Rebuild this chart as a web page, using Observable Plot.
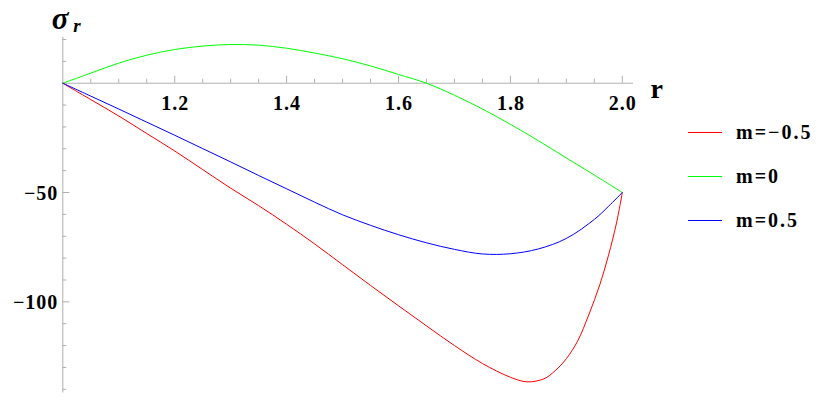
<!DOCTYPE html>
<html>
<head>
<meta charset="utf-8">
<script src="https://cdn.jsdelivr.net/npm/d3@7"></script>
<script src="https://cdn.jsdelivr.net/npm/@observablehq/plot@0.6"></script>
<style>
  html, body { margin: 0; padding: 0; background: #fff; }
  #wrap { position: relative; width: 828px; height: 405px; }
  #wrap svg text { letter-spacing: 1px; }
  #legend { position: absolute; left: 688px; top: 0; font-family: "Liberation Serif", serif; font-weight: bold; font-size: 20px; color: #000; }
  .row { position: absolute; left: 0; display: flex; align-items: center; white-space: nowrap; }
  .sw { width: 34px; height: 0; border-top: 1px solid; margin-right: 14px; }
  .lbl { letter-spacing: 2px; }
</style>
</head>
<body>
<div id="wrap"><div id="legend"></div></div>
<script>
// Series labels and colours
const seriesNames = ["m=\u22120.5", "m=0", "m=0.5"];
const seriesColors = ["#ff0000", "#00ff00", "#0000ff"];

// m = -0.5 (red)
const redR = [1.0, 1.05, 1.1, 1.15, 1.2, 1.25, 1.3, 1.35, 1.4, 1.45, 1.5, 1.55, 1.6, 1.65, 1.7, 1.75, 1.8, 1.83, 1.86, 1.88, 1.9, 1.92, 1.94, 1.96, 1.975, 1.99, 2.0];
const redV = [0, -7.5, -15, -23, -31, -39.5, -48, -56, -64.5, -73.5, -83, -92.5, -101.8, -111, -120, -128.2, -134.5, -136.6, -135.2, -131.5, -126, -118, -106, -92, -79, -63.5, -50];

// m = 0 (green)
const greenR = [1.0, 1.05, 1.1, 1.15, 1.2, 1.25, 1.3, 1.35, 1.4, 1.45, 1.5, 1.55, 1.6, 1.65, 1.7, 1.75, 1.8, 1.85, 1.9, 1.95, 2.0];
const greenV = [0, 4.6, 9.2, 12.8, 15.4, 17.0, 17.7, 17.4, 16.0, 13.8, 11.2, 7.9, 4.0, 0, -5.5, -11.8, -18.8, -26.3, -34.2, -42, -50];

// m = 0.5 (blue)
const blueR = [1.0, 1.05, 1.1, 1.15, 1.2, 1.25, 1.3, 1.35, 1.4, 1.45, 1.5, 1.55, 1.6, 1.65, 1.7, 1.75, 1.8, 1.85, 1.9, 1.95, 1.975, 2.0];
const blueV = [0, -5.9, -11.8, -17.8, -23.8, -29.9, -36, -42.2, -48.3, -54.4, -60.2, -65, -69.3, -73, -76, -78.1, -78.0, -75.8, -71.0, -62.3, -56.4, -50];

// Axes
const xDomain = [1, 2.02];
const yDomain = [-141.7, 21];
const xMajor = [1.2, 1.4, 1.6, 1.8, 2.0];
const xMinor = [1.05, 1.1, 1.15, 1.25, 1.3, 1.35, 1.45, 1.5, 1.55, 1.65, 1.7, 1.75, 1.85, 1.9, 1.95];
const yMajor = [-50, -100];
const yMinor = [20, 10, -10, -20, -30, -40, -60, -70, -80, -90, -110, -120, -130, -140];

const seriesR = [redR, greenR, blueR];
const seriesV = [redV, greenV, blueV];
const data = seriesNames.flatMap((name, i) => seriesR[i].map((r, j) => ({series: name, r, v: seriesV[i][j]})));

const axisColor = "#b0b0b0";
const H = 405, W = 828, mL = 62.3, mR = 195, mT = 36.8, mB = 12.5;
const pxPerX = (W - mL - mR) / (xDomain[1] - xDomain[0]);
const pxPerY = (H - mT - mB) / (yDomain[1] - yDomain[0]);

const chart = Plot.plot({
  width: W, height: H,
  marginLeft: mL, marginRight: mR, marginTop: mT, marginBottom: mB,
  x: {domain: xDomain, axis: null},
  y: {domain: yDomain, axis: null},
  style: {fontFamily: "'Liberation Serif', serif", background: "white", overflow: "visible"},
  marks: [
    // axis lines
    Plot.ruleY([0], {x1: xDomain[0], x2: xDomain[1], stroke: axisColor, strokeWidth: 1}),
    Plot.ruleX([xDomain[0]], {y1: yDomain[0], y2: yDomain[1], stroke: axisColor, strokeWidth: 1}),
    // x ticks (pointing up)
    Plot.ruleX(xMajor, {x: d => d, y1: 0, y2: 7 / pxPerY, stroke: axisColor}),
    Plot.ruleX(xMinor, {x: d => d, y1: 0, y2: 4 / pxPerY, stroke: axisColor}),
    // y ticks (pointing right)
    Plot.ruleY(yMajor, {y: d => d, x1: xDomain[0], x2: xDomain[0] + 7 / pxPerX, stroke: axisColor}),
    Plot.ruleY(yMinor, {y: d => d, x1: xDomain[0], x2: xDomain[0] + 4 / pxPerX, stroke: axisColor}),
    // tick labels
    Plot.text(xMajor, {x: d => d, y: 0, text: d => d.toFixed(1), dx: 0.5, dy: 20, fontSize: 20, fontWeight: "bold", fill: "black", lineAnchor: "middle"}),
    Plot.text(yMajor, {x: xDomain[0], y: d => d, text: d => "\u2212" + Math.abs(d), dx: -4.5, dy: 1, textAnchor: "end", fontSize: 20, fontWeight: "bold", fill: "black", lineAnchor: "middle"}),
    // axis titles
    Plot.text(["r"], {x: xDomain[1], y: 0, text: d => d, dx: 17, dy: 6, textAnchor: "start", fontSize: 28, fontWeight: "bold", fill: "black", lineAnchor: "middle"}),
    Plot.text(["\u03c3"], {frameAnchor: "top-left", text: d => d, dx: -11, dy: -18, textAnchor: "start", fontSize: 31, fontWeight: "bold", fontStyle: "italic", fill: "black", lineAnchor: "middle"}),
    Plot.text(["r"], {frameAnchor: "top-left", text: d => d, dx: 10.5, dy: -11, textAnchor: "start", fontSize: 19, fontWeight: "bold", fontStyle: "italic", fill: "black", lineAnchor: "middle"}),
    // curves
    Plot.line(data, {x: "r", y: "v", z: "series", stroke: d => seriesColors[seriesNames.indexOf(d.series)], strokeWidth: 1, curve: "catmull-rom"})
  ]
});
document.getElementById("wrap").prepend(chart);

// legend
const legend = document.getElementById("legend");
const rowY = [132.7, 176.7, 220];
seriesNames.forEach((name, i) => {
  const row = document.createElement("div");
  row.className = "row";
  row.style.top = (rowY[i] - 12) + "px";
  row.style.height = "24px";
  row.innerHTML = `<span class="sw" style="border-color:${seriesColors[i]}"></span><span class="lbl">${name}</span>`;
  legend.appendChild(row);
});
</script>
</body>
</html>
